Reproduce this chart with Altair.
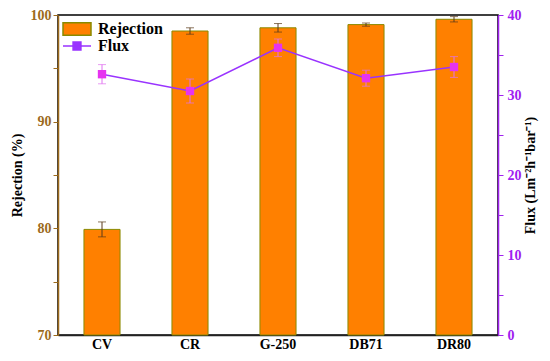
import altair as alt
import pandas as pd

categories = ["CV", "CR", "G-250", "DB71", "DR80"]
rejection = [79.9, 98.5, 98.8, 99.1, 99.6]
rejection_err = [0.7, 0.3, 0.4, 0.15, 0.25]
flux = [32.6, 30.5, 35.9, 32.1, 33.5]
flux_err = [1.2, 1.5, 1.1, 1.0, 1.3]

df = pd.DataFrame({
    "cat": categories,
    "rej": rejection,
    "rej_lo": [r - e for r, e in zip(rejection, rejection_err)],
    "rej_hi": [r + e for r, e in zip(rejection, rejection_err)],
    "flux": flux,
    "flux_lo": [f - e for f, e in zip(flux, flux_err)],
    "flux_hi": [f + e for f, e in zip(flux, flux_err)],
    "s1": ["Rejection"] * 5,
    "s2": ["Flux"] * 5,
})

FONT = "Liberation Serif"
BROWN = "#9c6a1c"
PURPLE = "#a020f0"

x_enc = alt.X("cat:N", sort=categories, title=None,
              scale=alt.Scale(paddingInner=0.59, paddingOuter=0.295),
              axis=alt.Axis(labelFont=FONT, labelFontWeight="bold", labelFontSize=14,
                            labelColor="black", labelAngle=0, ticks=False,
                            domainColor="#222", domainWidth=1.5, labelPadding=2))

left_axis = alt.Axis(values=[70, 75, 80, 85, 90, 95, 100],
                     labelExpr="datum.value % 10 == 0 ? datum.label : ''",
                     grid=False, domainColor=BROWN, domainWidth=1.5, tickColor=BROWN,
                     tickSize=5, labelColor=BROWN, labelFont=FONT, labelFontWeight="bold",
                     labelFontSize=14, title="Rejection (%)", titleFont=FONT,
                     titleFontWeight="bold", titleFontSize=14, titleColor="black",
                     titlePadding=6)
left_scale = alt.Scale(domain=[70, 100], zero=False, nice=False)

right_axis = alt.Axis(orient="right", values=[0, 5, 10, 15, 20, 25, 30, 35, 40],
                      labelExpr="datum.value % 10 == 0 ? datum.label : ''",
                      grid=False, domainColor=PURPLE, domainWidth=1.5, tickColor=PURPLE,
                      tickSize=5, labelColor=PURPLE, labelFont=FONT, labelFontWeight="bold",
                      labelFontSize=14, labelPadding=4, title="Flux (Lm⁻²h⁻¹bar⁻¹)",
                      titleFont=FONT, titleFontWeight="bold", titleFontSize=14,
                      titleColor="black", titleAngle=270, titlePadding=16)
right_scale = alt.Scale(domain=[0, 40], nice=False)

base = alt.Chart(df)

bars = base.mark_bar(stroke="#8a8a00", strokeWidth=1).encode(
    x=x_enc,
    y=alt.Y("rej:Q", scale=left_scale, axis=left_axis),
    y2=alt.datum(70),
    fill=alt.Fill("s1:N", scale=alt.Scale(domain=["Rejection"], range=["#ff8000"]),
                  legend=alt.Legend(title=None, orient="none", legendX=4, legendY=-1,
                                    symbolType="M-1,-0.45H1V0.45H-1Z", symbolSize=784,
                                    symbolStrokeColor="#8a8a00", symbolStrokeWidth=1.5,
                                    labelFont=FONT, labelFontWeight="bold", labelFontSize=16,
                                    labelColor="black", labelOffset=6)),
)
rej_rule = base.mark_rule(color="#5a3a1a", strokeWidth=1).encode(
    x=x_enc, y=alt.Y("rej_lo:Q", scale=left_scale, axis=left_axis), y2="rej_hi:Q")
rej_lo = base.mark_tick(color="#5a3a1a", size=8, thickness=1).encode(
    x=x_enc, y=alt.Y("rej_lo:Q", scale=left_scale, axis=left_axis))
rej_hi = base.mark_tick(color="#5a3a1a", size=8, thickness=1).encode(
    x=x_enc, y=alt.Y("rej_hi:Q", scale=left_scale, axis=left_axis))

left = alt.layer(bars, rej_rule, rej_lo, rej_hi)

fl_rule = base.mark_rule(color="#e070f0", strokeWidth=1).encode(
    x=x_enc, y=alt.Y("flux_lo:Q", scale=right_scale, axis=right_axis), y2="flux_hi:Q")
fl_lo = base.mark_tick(color="#e070f0", size=8, thickness=1).encode(
    x=x_enc, y=alt.Y("flux_lo:Q", scale=right_scale, axis=right_axis))
fl_hi = base.mark_tick(color="#e070f0", size=8, thickness=1).encode(
    x=x_enc, y=alt.Y("flux_hi:Q", scale=right_scale, axis=right_axis))
line = base.mark_line(strokeWidth=1.5).encode(
    x=x_enc,
    y=alt.Y("flux:Q", scale=right_scale, axis=right_axis),
    stroke=alt.Stroke("s2:N", scale=alt.Scale(domain=["Flux"], range=["#9933ff"]),
                      legend=alt.Legend(title=None, orient="none", legendX=4, legendY=16,
                                        symbolType="M-1,0H1M-0.28,-0.28H0.28V0.28H-0.28Z",
                                        symbolSize=784, symbolStrokeWidth=1.5,
                                        symbolFillColor="#9933ff",
                                        labelFont=FONT, labelFontWeight="bold",
                                        labelFontSize=16, labelColor="black", labelOffset=6)),
)
pts = base.mark_square(size=70, opacity=1, color="#e633f0").encode(
    x=x_enc, y=alt.Y("flux:Q", scale=right_scale, axis=right_axis))

right = alt.layer(fl_rule, fl_lo, fl_hi, line, pts)

chart = alt.layer(left, right).resolve_scale(y="independent").properties(
    width=440, height=320,
    autosize=alt.AutoSizeParams(type="none"),
    padding={"left": 50, "top": 7, "right": 44, "bottom": 18},
).configure_view(stroke="black", strokeWidth=1.5)

chart.save("out.html", embed_options={"renderer": "svg", "actions": False})
